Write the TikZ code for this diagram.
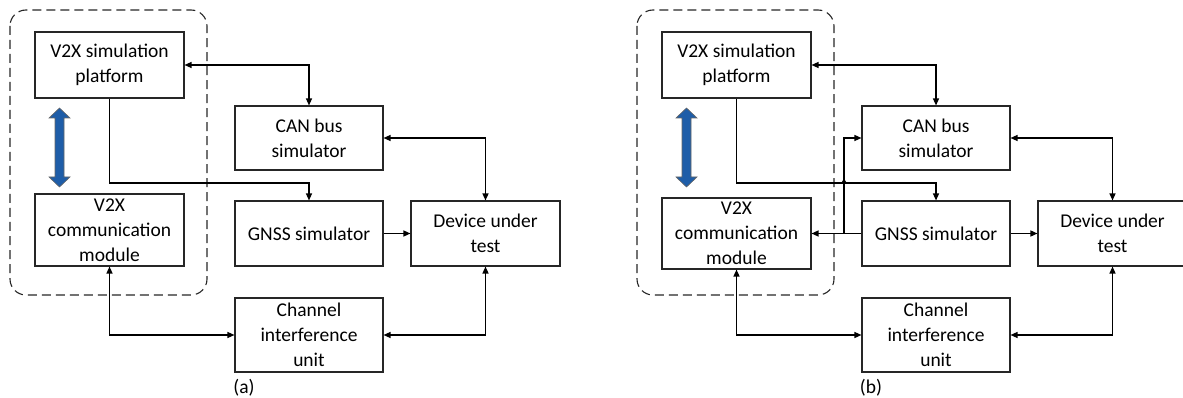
\documentclass[tikz,border=0pt]{standalone}
\usepackage{fontspec}
\setmainfont{Carlito}
\usetikzlibrary{arrows.meta}
\definecolor{arrblue}{HTML}{1E5DA8}
\tikzset{
  blk/.style={draw=black!85, line width=1.1pt, inner sep=0pt, align=center,
    minimum width=149pt, font=\fontsize{19.5}{25}\selectfont},
  conn/.style={line width=1.3pt, black},
  tip/.style={-{Triangle[length=7pt,width=6pt]}},
  tips/.style={{Triangle[length=7pt,width=6pt]}-{Triangle[length=7pt,width=6pt]}},
  grp/.style={draw=black!85, line width=1.1pt, dash pattern=on 9pt off 5pt, rounded corners=16pt},
  lbl/.style={font=\fontsize{19.5}{25}\selectfont, inner sep=0pt},
  bigarrow/.style={fill=arrblue, draw=black!60, line width=0.6pt}
}
\begin{document}
\begin{tikzpicture}[x=1pt,y=-1pt]
\useasboundingbox (0,0) rectangle (1183,398);

% ---------------- panel (a) ----------------
\draw[grp] (10,10) rectangle (207,295);
\node[blk, minimum height=66pt] (simA) at (109.5,65) {V2X simulation\\platform};
\node[blk, minimum height=72pt] (comA) at (109.5,230) {V2X\\communication\\module};
\node[blk, minimum height=64pt, minimum width=148pt] (canA) at (309,138) {CAN bus\\simulator};
\node[blk, minimum height=65pt, minimum width=148pt] (gnsA) at (309,233.5) {GNSS simulator};
\node[blk, minimum height=74pt, minimum width=148pt] (chaA) at (309,335) {Channel\\interference\\unit};
\node[blk, minimum height=65pt] (dutA) at (485.5,233.5) {Device under\\test};
\node[lbl] (labA) at (244,388) {(a)};
\draw[bigarrow] (59.5,108) -- (70,118) -- (64,118) -- (64,177) -- (70,177) -- (59.5,187)
  -- (49,177) -- (55,177) -- (55,118) -- (49,118) -- cycle;

\draw[conn,tips] (simA.east) -| (canA.north);
\coordinate (kA) at (109.5,183);
\draw[conn,tip] (simA.south) -- (kA) -| (gnsA.north);
\draw[conn,tips] (comA.south) |- (chaA.west);
\draw[conn,tips] (canA.east) -| (dutA.north);
\draw[conn,tip] (gnsA.east) -- (dutA.west);
\draw[conn,tips] (dutA.south) |- (chaA.east);

% ---------------- panel (b) ----------------
\draw[grp] (637,10) rectangle (834,295);
\node[blk, minimum height=66pt] (simB) at (736.5,65) {V2X simulation\\platform};
\node[blk, minimum height=71pt] (comB) at (736.5,233.5) {V2X\\communication\\module};
\node[blk, minimum height=64pt, minimum width=148pt] (canB) at (936,138) {CAN bus\\simulator};
\node[blk, minimum height=65pt, minimum width=148pt] (gnsB) at (936,233.5) {GNSS simulator};
\node[blk, minimum height=74pt, minimum width=148pt] (chaB) at (936,335) {Channel\\interference\\unit};
\node[blk, minimum height=65pt] (dutB) at (1112.5,233.5) {Device under\\test};
\node[lbl] (labB) at (871,388) {(b)};
\draw[bigarrow] (686.5,108) -- (697,118) -- (691,118) -- (691,177) -- (697,177) -- (686.5,187)
  -- (676,177) -- (682,177) -- (682,118) -- (676,118) -- cycle;

\draw[conn,tips] (simB.east) -| (canB.north);
\coordinate (kB) at (736.5,183);
\draw[conn,tip] (simB.south) -- (kB) -| (gnsB.north);
\draw[conn,tips] (comB.south) |- (chaB.west);
\draw[conn,tips] (canB.east) -| (dutB.north);
\draw[conn,tip] (gnsB.east) -- (dutB.west);
\draw[conn,tips] (dutB.south) |- (chaB.east);
\draw[conn,tip] (gnsB.west) -- (comB.east);
\coordinate (brB) at (844,233.5);
\draw[conn,tip] (brB) |- (canB.west);
\fill (844,182) circle (2pt);
\end{tikzpicture}
\end{document}
